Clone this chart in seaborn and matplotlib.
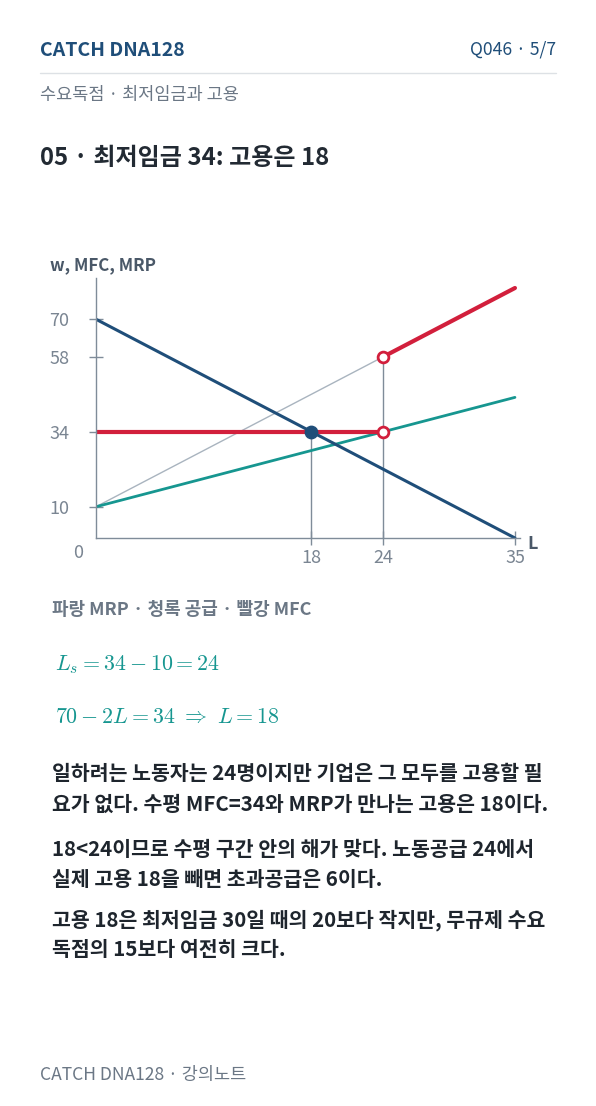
import matplotlib
matplotlib.use("Agg")
import matplotlib.pyplot as plt
import seaborn as sns
import numpy as np

sns.set_theme(style="white")
plt.rcParams['font.family'] = ['Noto Sans CJK KR', 'DejaVu Sans']
plt.rcParams['mathtext.fontset'] = 'cm'

L_mrp = [0, 35]; mrp = [70, 0]
L_sup = [0, 35]; sup = [10, 45]
L_mfc0 = [0, 24]; mfc0 = [10, 58]
L_red1 = [0, 24]; red1 = [34, 34]
L_red2 = [24, 35]; red2 = [58, 80]
yticks = [10, 34, 58, 70]
xticks = [18, 24, 35]

NAVY = "#1f4e79"; TEAL = "#169690"; RED = "#d21f3c"; GRAY = "#a9b4bf"; AX = "#7f8c99"
W, H = 596, 1106
fig = plt.figure(figsize=(W/100, H/100), dpi=100)
fig.patch.set_facecolor("white")

def T(x, y, s, size, color, weight="normal", ha="left", **kw):
    fig.text(x/W, 1-y/H, s, fontsize=size*0.72, color=color, weight=weight, ha=ha, va="center", **kw)

T(40, 50, "CATCH DNA128", 19.5, NAVY, "bold")
T(556, 50, "Q046 · 5/7", 17.5, NAVY, ha="right")
fig.add_artist(plt.Line2D([40/W, 556/W], [1-73/H]*2, color="#dde1e5", lw=1))
T(40, 95, "수요독점 · 최저임금과 고용", 17.5, "#6b7785")
T(40, 158, "05 · 최저임금 34: 고용은 18", 24, "#222a33", "bold")

xmax = 35.4; ymax = 83.2
sx = 11.97; sy = 3.125
ax = fig.add_axes([96/W, 1-538/H, xmax*sx/W, ymax*sy/H])
ax.set_xlim(0, xmax); ax.set_ylim(0, ymax)
for s in ["top", "right"]: ax.spines[s].set_visible(False)
for s in ["left", "bottom"]:
    ax.spines[s].set_color(AX); ax.spines[s].set_linewidth(1)
ax.set_facecolor("none")

ax.vlines([18], 0, 34, color=AX, lw=1)
ax.vlines([24], 0, 58, color=AX, lw=1)
sns.lineplot(x=L_mfc0, y=mfc0, ax=ax, color=GRAY, lw=1)
sns.lineplot(x=L_sup, y=sup, ax=ax, color=TEAL, lw=2)
sns.lineplot(x=L_mrp, y=mrp, ax=ax, color=NAVY, lw=2.2)
sns.lineplot(x=L_red1, y=red1, ax=ax, color=RED, lw=3)
sns.lineplot(x=L_red2, y=red2, ax=ax, color=RED, lw=3)
ax.scatter([18], [34], s=80, color=NAVY, zorder=5)
ax.scatter([24, 24], [34, 58], s=60, facecolor="white", edgecolor=RED, lw=2, zorder=5)

ax.set_yticks(yticks); ax.set_xticks(xticks)
ax.tick_params(axis="both", direction="inout", length=10, width=1, color=AX,
               labelsize=18*0.72, labelcolor="#7a8592", left=True, bottom=True, pad=3)
ax.tick_params(axis="y", pad=14)
ax.set_xlabel(""); ax.set_ylabel("")
T(78, 553, "0", 18, "#7a8592", ha="center")
T(533, 544, "L", 18, "#4a5868", "bold", ha="center")
T(50, 265, "w, MFC, MRP", 17, "#4a5868", "bold")

T(52, 610, "파랑 MRP · 청록 공급 · 빨강 MFC", 18, "#6b7785", "bold")
T(55, 665, r"$L_s = 34 - 10 = 24$", 22, TEAL)
T(55, 717, r"$70 - 2L = 34\ \Rightarrow\ L = 18$", 22, TEAL)

body = [(774, "일하려는 노동자는 24명이지만 기업은 그 모두를 고용할 필"),
        (804, "요가 없다. 수평 MFC=34와 MRP가 만나는 고용은 18이다."),
        (849, "18<24이므로 수평 구간 안의 해가 맞다. 노동공급 24에서"),
        (880, "실제 고용 18을 빼면 초과공급은 6이다."),
        (920, "고용 18은 최저임금 30일 때의 20보다 작지만, 무규제 수요"),
        (950, "독점의 15보다 여전히 크다.")]
for y, s in body:
    T(52, y, s, 20.5, "#1e252d", "bold")
T(40, 1075, "CATCH DNA128 · 강의노트", 17.5, "#6b7785")

fig.savefig("out.png", dpi=100, facecolor="white")
